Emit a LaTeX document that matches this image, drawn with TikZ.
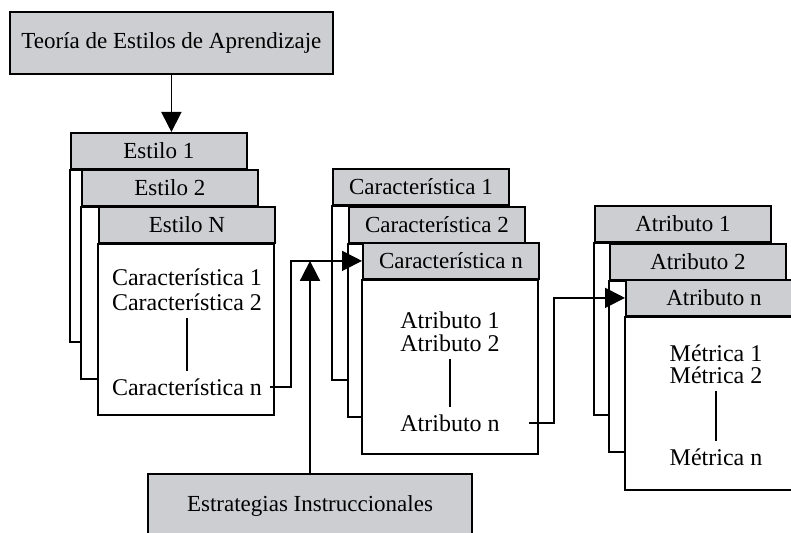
\documentclass[tikz,border=0pt]{standalone}
\usepackage{fontspec}
\setmainfont{Liberation Serif}
\usepackage{tikz}
\usetikzlibrary{arrows.meta}
\definecolor{headgray}{RGB}{205,206,209}

\begin{document}
\begin{tikzpicture}[x=0.5pt, y=-0.5pt, line width=0.9pt, font=\fontsize{11.5}{13}\selectfont]
		\tikzstyle {head} = [draw, fill=headgray, inner sep=0pt, anchor=north west, minimum width=88pt, minimum height=18pt]
		\tikzstyle {body} = [draw, fill=white]
		\tikzstyle {item} = [font=\fontsize{12}{14}\selectfont]
		\tikzstyle {link} = [-{Triangle[length=10pt, width=10pt]}]

		\useasboundingbox (0,0) rectangle (791,533);
		\clip (0,0) rectangle (791,533);

		% teoria
		\node[head, minimum width=161.5pt, minimum height=31pt] (teoria) at (9,11) {Teoría de Estilos de Aprendizaje};

		% estilos
		\node[head] (est1) at (70,132) {Estilo 1};
		\draw[body] (est1.south west) rectangle ++(176,172);
		\node[head] (est2) at (81,169) {Estilo 2};
		\draw[body] (est2.south west) rectangle ++(176,172);
		\node[head] (est3) at (98,206) {Estilo N};
		\draw[body] (est3.south west) rectangle ++(176,171);

		\node[item] (ca1) at (187,277) {Característica 1};
		\node[item] (ca2) at (187,302) {Característica 2};
		\node[item] (can) at (187,387) {Característica n};
		\draw (ca2) -- (can);

		% caracteristicas
		\node[head] (car1) at (332,168) {Característica 1};
		\draw[body] (car1.south west) rectangle ++(176,174);
		\node[head] (car2) at (348,206) {Característica 2};
		\draw[body] (car2.south west) rectangle ++(176,173);
		\node[head] (car3) at (362,242) {Característica n};
		\draw[body] (car3.south west) rectangle ++(176,174);

		\node[item] (at1) at (450,320) {Atributo 1};
		\node[item] (at2) at (450,343) {Atributo 2};
		\node[item] (atn) at (450,423) {Atributo n};
		\draw (at2) -- (atn);

		% atributos
		\node[head] (atr1) at (594,205) {Atributo 1};
		\draw[body] (atr1.south west) rectangle ++(176,172);
		\node[head] (atr2) at (609,243) {Atributo 2};
		\draw[body] (atr2.south west) rectangle ++(176,171);
		\node[head] (atr3) at (625,279) {Atributo n};
		\draw[body] (atr3.south west) rectangle ++(176,173);

		\node[item] (me1) at (716,353) {Métrica 1};
		\node[item] (me2) at (716,375) {Métrica 2};
		\node[item] (men) at (716,457) {Métrica n};
		\draw (me2) -- (men);

		% estrategias
		\node[head, anchor=north, minimum width=162pt, minimum height=32pt] (estr) at (310,473) {Estrategias Instruccionales};

		% conectores
		\coordinate (j1) at (291,0);
		\coordinate (j2) at (554,0);
		\draw[link] (teoria.south) -- (teoria.south |- est1.north);
		\draw[link] (can.east) -- (can.east -| j1) |- (car3.west);
		\draw[link] ([xshift=11pt]atn.east) -- (atn.east -| j2) |- (atr3.west);
		\draw[link] (estr.north) -- (estr.north |- car3.west);
\end{tikzpicture}
\end{document}
